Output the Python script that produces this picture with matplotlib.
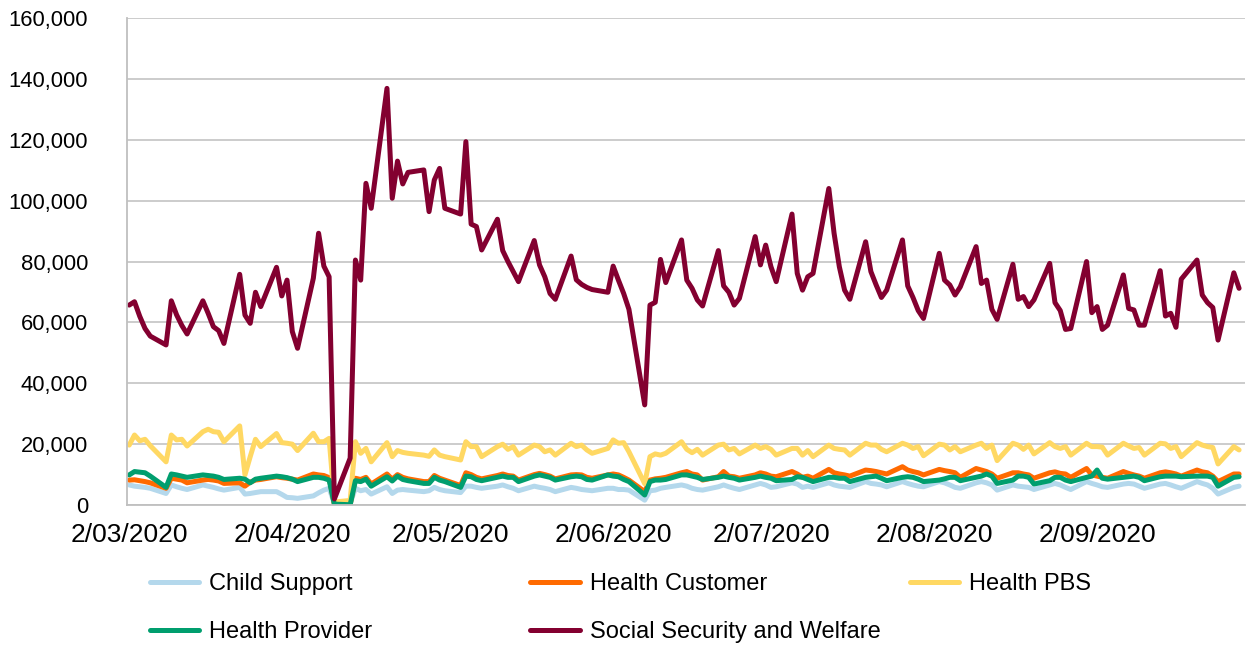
import numpy as np
import pandas as pd
import matplotlib
matplotlib.use("Agg")
import matplotlib.pyplot as plt
import matplotlib.dates as mdates
from matplotlib.lines import Line2D

plt.rcParams['font.family'] = ['Liberation Sans', 'DejaVu Sans']

# weekdays only, 2 Mar 2020 - 29 Sep 2020 (values in thousands, one row per week Mon-Fri)
dates = pd.bdate_range("2020-03-02", "2020-09-29")

child_support = [
    6.6, 6.2, 6.0, 5.8, 5.5,  3.8, 6.6, 6.0, 5.5, 5.1,  6.6, 6.2, 5.8, 5.3, 4.9,
    5.8, 3.6, 3.8, 4.1, 4.4,  4.4, 3.5, 2.5, 2.4, 2.2,  3.0, 4.0, 4.9, 5.5, 0.5,
    0.5, 5.5, 4.7, 5.1, 3.6,  6.0, 3.8, 4.9, 5.1, 4.9,  4.4, 4.7, 5.8, 5.1, 4.7,
    4.1, 6.2, 6.2, 5.8, 5.5,  6.2, 6.6, 6.0, 5.5, 4.7,  6.2, 5.8, 5.5, 5.1, 4.4,
    5.8, 5.5, 5.1, 4.9, 4.7,  5.5, 5.5, 5.1, 5.1, 4.9,  1.6, 4.7, 4.9, 5.5, 5.8,
    6.6, 6.2, 5.5, 5.1, 4.9,  6.0, 6.6, 6.0, 5.5, 5.1,  6.6, 7.1, 6.6, 5.8, 6.0,
    7.3, 6.9, 5.8, 6.2, 5.8,  7.3, 6.6, 6.2, 6.0, 5.8,  7.7, 7.1, 6.9, 6.6, 6.0,
    7.7, 7.1, 6.6, 6.2, 6.0,  7.7, 7.3, 6.6, 5.8, 5.5,  7.3, 7.7, 7.3, 6.6, 4.9,
    6.6, 6.2, 6.0, 5.8, 5.1,  6.6, 7.1, 6.6, 5.8, 5.1,  7.7, 7.1, 6.6, 6.0, 5.8,
    6.9, 7.1, 6.9, 6.2, 5.5,  6.9, 7.1, 6.6, 6.0, 5.5,  7.7, 7.1, 6.6, 5.5, 3.6,
    5.8, 6.2,
]

health_customer = [
    8.2, 8.3, 8.0, 7.7, 7.3,  5.5, 8.8, 8.5, 8.2, 7.3,  8.2, 8.4, 8.2, 7.9, 7.1,
    7.3, 6.2, 7.5, 8.2, 8.4,  9.3, 9.0, 8.8, 8.5, 8.2,  10.2, 9.9, 9.7, 9.0, 0.2,
    0.1, 8.8, 8.4, 9.1, 6.9,  10.2, 8.5, 10.0, 9.1, 8.6,  7.7, 7.7, 9.7, 8.8, 8.2,
    6.4, 10.6, 10.0, 9.1, 8.6,  9.7, 10.2, 9.7, 9.5, 8.2,  10.0, 10.4, 10.0, 9.5, 8.6,
    9.9, 10.0, 9.9, 9.1, 8.8,  9.9, 10.2, 9.9, 9.1, 8.2,  4.4, 8.2, 8.6, 8.8, 9.1,
    10.6, 11.0, 10.2, 9.9, 8.2,  9.3, 11.0, 9.5, 9.3, 8.8,  9.9, 10.6, 10.2, 9.5, 9.3,
    11.0, 10.2, 9.1, 9.5, 8.8,  11.7, 10.6, 10.2, 9.9, 9.5,  11.5, 11.3, 11.0, 10.6, 10.2,
    12.6, 11.5, 11.0, 10.6, 9.9,  11.7, 11.3, 11.0, 10.6, 9.1,  12.0, 11.5, 11.0, 10.2, 8.8,
    10.6, 10.6, 10.2, 9.9, 8.8,  10.6, 10.9, 10.4, 10.2, 9.1,  12.0, 9.9, 9.5, 9.1, 8.8,
    11.0, 10.4, 9.9, 9.5, 8.8,  10.6, 10.9, 10.6, 10.2, 9.5,  11.5, 10.9, 10.6, 9.5, 7.7,
    10.2, 10.2,
]

health_pbs = [
    19.7, 23.0, 21.1, 21.6, 19.5,  14.2, 23.0, 21.4, 21.6, 19.4,  24.1, 24.9, 24.1, 23.9, 20.8,
    26.0, 9.9, 15.9, 21.6, 19.2,  23.5, 20.5, 20.3, 20.0, 17.9,  23.6, 20.8, 20.8, 21.9, 1.0,
    1.5, 20.8, 17.0, 18.6, 14.2,  20.5, 15.9, 17.9, 17.3, 17.0,  16.4, 16.0, 18.1, 16.4, 15.9,
    14.8, 20.8, 19.2, 19.2, 15.9,  19.2, 20.0, 18.3, 19.2, 16.4,  19.7, 19.2, 17.5, 18.1, 16.4,
    20.3, 19.2, 19.7, 18.1, 17.0,  18.6, 21.4, 20.3, 20.5, 17.5,  7.0, 15.9, 16.8, 16.4, 17.0,
    20.8, 18.3, 17.2, 18.3, 16.4,  19.7, 20.0, 18.1, 18.6, 16.8,  19.7, 18.6, 19.2, 18.3, 16.4,
    18.6, 18.6, 16.4, 17.9, 15.9,  19.7, 18.6, 18.3, 18.1, 16.4,  20.3, 19.7, 19.7, 18.3, 17.5,
    20.3, 19.7, 18.6, 19.2, 16.2,  20.0, 19.7, 18.1, 19.2, 17.5,  19.7, 20.3, 18.6, 19.7, 14.6,
    20.3, 19.7, 18.3, 19.7, 16.8,  20.5, 19.2, 18.6, 19.2, 16.4,  20.3, 19.2, 19.2, 19.0, 16.4,
    20.3, 19.4, 18.6, 18.9, 16.4,  20.3, 20.1, 18.6, 19.2, 15.9,  20.5, 19.7, 19.2, 18.9, 13.5,
    19.2, 18.1,
]

health_provider = [
    9.9, 11.0, 10.8, 10.6, 9.5,  5.8, 10.2, 9.9, 9.5, 9.1,  9.9, 9.7, 9.5, 9.1, 8.4,
    8.8, 8.5, 7.3, 8.5, 8.8,  9.5, 9.3, 9.0, 8.5, 7.7,  9.1, 9.1, 8.8, 8.2, 0.3,
    0.1, 8.0, 7.7, 8.5, 6.2,  9.3, 7.9, 9.5, 8.4, 8.0,  7.1, 7.1, 9.1, 8.2, 7.7,
    5.8, 9.5, 9.3, 8.4, 8.0,  9.1, 9.5, 9.1, 9.1, 7.7,  9.5, 9.9, 9.5, 9.1, 8.2,
    9.3, 9.5, 9.3, 8.4, 8.2,  9.9, 9.5, 9.3, 8.4, 7.7,  3.3, 7.7, 8.2, 8.2, 8.4,
    9.9, 9.9, 9.5, 9.1, 8.4,  9.1, 9.5, 9.1, 8.8, 8.2,  9.1, 9.5, 9.1, 8.8, 8.0,
    8.4, 9.3, 9.1, 8.4, 7.7,  9.1, 9.1, 8.8, 8.8, 7.7,  9.1, 9.3, 9.5, 8.8, 8.0,
    9.1, 9.3, 9.1, 8.5, 7.7,  8.2, 8.6, 9.1, 9.1, 8.0,  9.1, 9.5, 10.2, 9.5, 7.1,
    8.2, 9.5, 9.5, 9.1, 6.9,  8.0, 9.1, 9.1, 8.2, 7.7,  9.1, 9.5, 11.5, 8.8, 8.5,
    9.1, 9.3, 9.5, 9.1, 8.0,  9.3, 9.5, 9.5, 9.5, 9.3,  9.5, 9.5, 9.5, 9.1, 6.2,
    9.1, 9.3,
]

social_security = [
    65.7, 66.8, 62.0, 58.0, 55.5,  52.6, 67.1, 62.5, 59.0, 56.2,  67.1, 63.0, 58.6, 57.3, 53.1,
    75.8, 62.4, 59.7, 69.9, 65.2,  78.1, 68.7, 73.9, 57.0, 51.5,  74.5, 89.3, 78.5, 75.0, 2.0,
    15.4, 80.5, 73.9, 105.7, 97.5,  136.9, 100.8, 113.0, 105.5, 109.3,  110.1, 96.4, 106.8, 110.6, 97.5,
    95.6, 119.4, 92.3, 91.5, 83.8,  93.9, 83.6, 80.0, 76.7, 73.4,  86.9, 78.9, 75.0, 69.5, 67.6,
    81.8, 74.0, 72.5, 71.5, 70.8,  69.9, 78.5, 73.9, 69.5, 64.3,  32.9, 65.7, 66.6, 80.7, 73.1,
    87.1, 73.9, 71.2, 67.4, 65.4,  83.6, 72.0, 69.9, 65.7, 67.9,  88.2, 78.9, 85.4, 78.3, 73.4,
    95.6, 76.1, 70.6, 75.0, 76.1,  104.0, 89.3, 78.3, 70.6, 67.6,  86.5, 76.7, 72.3, 68.2, 70.6,
    87.1, 72.0, 68.2, 63.9, 61.3,  82.7, 73.9, 72.3, 69.0, 71.7,  84.9, 72.8, 73.9, 64.3, 61.0,
    79.1, 67.6, 68.5, 65.2, 67.4,  79.4, 66.5, 63.9, 57.7, 58.0,  80.0, 63.2, 65.2, 57.7, 59.1,
    75.6, 64.6, 64.1, 59.1, 59.1,  77.0, 62.1, 63.0, 58.4, 74.2,  80.5, 69.0, 66.5, 64.9, 54.2,
    76.3, 71.2,
]

series_names = ["Child Support", "Health Customer", "Health PBS",
                "Health Provider", "Social Security and Welfare"]
series_values = [child_support, health_customer, health_pbs,
                 health_provider, social_security]
colors = ["#B4D8EC", "#FF6A00", "#FFD863", "#009E6E", "#830030"]

tick_dates = pd.to_datetime(["2020-03-02", "2020-04-02", "2020-05-02", "2020-06-02",
                             "2020-07-02", "2020-08-02", "2020-09-02"])
tick_labels = ["2/03/2020", "2/04/2020", "2/05/2020", "2/06/2020",
               "2/07/2020", "2/08/2020", "2/09/2020"]

fig = plt.figure(figsize=(12.48, 6.45), dpi=100)
ax = fig.add_axes([0.1018, 0.217, 0.8958, 0.755])

lines = []
for name, vals, c in zip(series_names, series_values, colors):
    ln, = ax.plot(dates, np.array(vals) * 1000, color=c, lw=3.6, label=name,
                  solid_joinstyle='round', solid_capstyle='round')
    lines.append(ln)

ax.set_ylim(0, 160000)
ax.set_yticks(np.arange(0, 160001, 20000))
ax.yaxis.set_major_formatter(matplotlib.ticker.FuncFormatter(lambda v, p: f"{int(v):,}"))
ax.set_xlim(pd.Timestamp("2020-03-01 14:00"), pd.Timestamp("2020-09-30 03:00"))
ax.set_xticks(tick_dates)
ax.set_xticklabels(tick_labels)

ax.grid(axis='y', color='#C8C8C8', lw=1.3)
ax.set_axisbelow(True)
for s in ['top', 'right']:
    ax.spines[s].set_visible(False)
for s in ['left', 'bottom']:
    ax.spines[s].set_color('#BFBFBF')
    ax.spines[s].set_linewidth(1.3)
ax.tick_params(length=0, colors='black')
ax.tick_params(axis='y', labelsize=15.8, pad=28)
ax.tick_params(axis='x', labelsize=19, pad=13)

# legend laid out in three fixed columns like the original
cols = [([0, 3], 0.120), ([1, 4], 0.4247), ([2], 0.729)]
for idx, x in cols:
    leg = fig.legend([lines[i] for i in idx], [series_names[i] for i in idx],
                     loc='upper left', bbox_to_anchor=(x, 0.111), frameon=False,
                     fontsize=17, handlelength=2.1, handletextpad=0.42,
                     labelspacing=1.1, borderaxespad=0, borderpad=0)

fig.savefig("out.png", dpi=100)
